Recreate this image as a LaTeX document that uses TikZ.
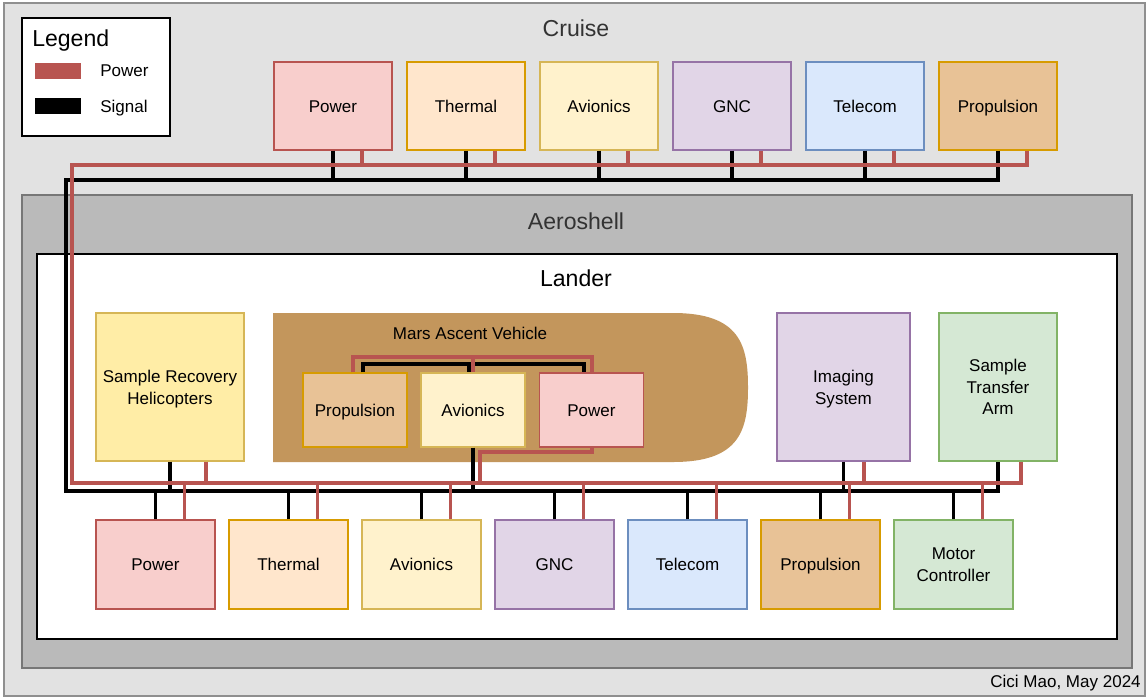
\documentclass[tikz,border=0pt]{standalone}
\usepackage{fontspec}
\setmainfont{Liberation Sans}
\usetikzlibrary{positioning,calc}
\definecolor{fillpow}{HTML}{F8CECC}
\definecolor{linepow}{HTML}{B85450}
\definecolor{fillthm}{HTML}{FFE6CC}
\definecolor{linethm}{HTML}{D79B00}
\definecolor{fillavi}{HTML}{FFF2CC}
\definecolor{lineavi}{HTML}{D6B656}
\definecolor{fillgnc}{HTML}{E1D5E7}
\definecolor{linegnc}{HTML}{9673A6}
\definecolor{filltel}{HTML}{DAE8FC}
\definecolor{linetel}{HTML}{6C8EBF}
\definecolor{fillprp}{HTML}{E8C296}
\definecolor{lineprp}{HTML}{D79B00}
\definecolor{fillmot}{HTML}{D5E8D4}
\definecolor{linemot}{HTML}{82B366}
\definecolor{fillsrh}{HTML}{FFEDA6}
\definecolor{linesrh}{HTML}{D6B656}
\definecolor{fillmav}{HTML}{C3965C}
\definecolor{cruisefill}{HTML}{E2E2E2}
\definecolor{cruiseline}{HTML}{8F8F8F}
\definecolor{aerofill}{HTML}{BABABA}
\definecolor{aeroline}{HTML}{777777}
\definecolor{wirered}{HTML}{B85450}
\definecolor{titlegray}{HTML}{333333}
\newcommand{\boxfont}{\fontsize{12.1}{15.4}\selectfont}
\newcommand{\titlefont}{\fontsize{16.4}{19}\selectfont}

\begin{document}
\begin{tikzpicture}[x=0.025cm, y=-0.025cm,
  unit/.style={draw, line width=0.9pt, align=center, font=\boxfont, inner sep=1pt},
  one/.style={text height=9pt, text depth=0.3pt},
  multi/.style={text depth=0pt},
  cbox/.style={unit, minimum width=2.95cm, minimum height=2.2cm},
  lbox/.style={unit, minimum width=2.975cm, minimum height=2.225cm},
  mbox/.style={unit, one, minimum width=2.6cm, minimum height=1.85cm},
  pwr/.style={draw=wirered, line width=2.2pt},
  sig/.style={draw=black, line width=2.2pt},
  title/.style={font=\titlefont, text=titlegray},
  plain/.style={font=\boxfont, inner sep=0pt}]
\useasboundingbox (0,0) rectangle (1148,698);

% FRAMES: cruise stage, aeroshell, lander
\draw[fill=cruisefill, draw=cruiseline, line width=1pt] (4,3) rectangle (1145,696);
\draw[fill=aerofill, draw=aeroline, line width=1pt] (22,195) rectangle (1132,668);
\draw[fill=white, draw=black, line width=0.9pt] (37,254) rectangle (1117,639);
\node[title] (tCruise) at (576,28) {Cruise};
\node[title] (tAero) at (576,221) {Aeroshell};
\node[font=\titlefont] (tLander) at (576,278) {Lander};
\node[plain, anchor=east] (credit) at (1141,683) {Cici Mao, May 2024};

% LEGEND
\node[draw=black, fill=white, line width=0.9pt, minimum width=3.7cm, minimum height=2.95cm] (legend) at (96,77) {};
\node[font=\titlefont, inner sep=0pt, anchor=west] (legTitle) at (32,41) {Legend};
\fill[wirered] (35,63) rectangle (81,79);
\fill[black] (35,98) rectangle (81,114);
\node[plain, one, anchor=west] (legPwr) at (100,70) {Power};
\node[plain, one, anchor=west] (legSig) at (100,106) {Signal};

% MARS ASCENT VEHICLE outline
\fill[fillmav] (273,313) -- (673,313) .. controls (740,313) and (748,345) .. (748,387.5)
  .. controls (748,430) and (740,462) .. (673,462) -- (273,462) -- cycle;
\node[plain] (mavLbl) at (470,333) {Mars Ascent Vehicle};

% CRUISE subsystems
\foreach \nm/\txt/\clr [count=\i from 0] in {cPow/Power/pow, cThm/Thermal/thm, cAvi/Avionics/avi,
    cGnc/GNC/gnc, cTel/Telecom/tel, cPrp/Propulsion/prp}{
  \node[cbox, one, fill=fill\clr, draw=line\clr] (\nm) at ({333+133*\i},106) {\txt};
}

% LANDER subsystems
\foreach \nm/\txt/\clr [count=\i from 0] in {lPow/Power/pow, lThm/Thermal/thm, lAvi/Avionics/avi,
    lGnc/GNC/gnc, lTel/Telecom/tel, lPrp/Propulsion/prp}{
  \node[lbox, one, fill=fill\clr, draw=line\clr] (\nm) at ({155.5+133*\i},564.5) {\txt};
}
\node[lbox, multi, fill=fillmot, draw=linemot] (lMot) at (953.5,564.5) {Motor\\Controller};
\node[unit, multi, fill=fillsrh, draw=linesrh, minimum width=3.7cm, minimum height=3.7cm] (srh) at (170,387) {Sample Recovery\\Helicopters};
\node[unit, multi, fill=fillgnc, draw=linegnc, minimum width=3.325cm, minimum height=3.7cm] (img) at (843.5,387) {Imaging\\System};
\node[unit, multi, fill=fillmot, draw=linemot, minimum width=2.95cm, minimum height=3.7cm] (sta) at (998,387) {Sample\\Transfer\\Arm};

% MAV subsystems
\node[mbox, fill=fillprp, draw=lineprp] (mPrp) at (355,410) {Propulsion};
\node[mbox, fill=fillavi, draw=lineavi] (mAvi) at (473,410) {Avionics};
\node[mbox, fill=fillpow, draw=linepow] (mPow) at (591.5,410) {Power};

% BUS coordinates
\coordinate (pwrTop) at (72,165);
\coordinate (sigTop) at (66,180);
\coordinate (pwrBus) at (72,483);
\coordinate (sigBus) at (66,491);
\coordinate (mavPwr) at (473,357);
\coordinate (mavSig) at (469,364);
\coordinate (mavOut) at (480,452);

% SIGNAL wiring
\draw[sig] (cPrp.south) |- (sigTop) -- (sigBus) -| (sta.south);
\foreach \nm in {cPow,cThm,cAvi,cGnc,cTel}{
  \draw[sig] (\nm.south) -- (\nm.south |- sigTop);
}
\foreach \nm in {lPow,lThm,lAvi,lGnc,lTel,lPrp,lMot}{
  \draw[sig] (\nm.north) -- (\nm.north |- sigBus);
}
\draw[sig] (srh.south) -- (srh.south |- sigBus);
\draw[sig] (img.south) -- (img.south |- sigBus);
\draw[sig] (mAvi.south) -- (mAvi.south |- sigBus);
\draw[sig] ($(mPrp.north)+(8,0)$) |- (mavSig) -| ($(mPow.north)+(-7.5,0)$);
\draw[sig] (mavSig) -- (mavSig |- mAvi.north);

% POWER wiring
\draw[pwr] ($(cPrp.south)+(29,0)$) |- (pwrTop) -- (pwrBus) -| ($(sta.south)+(23,0)$);
\foreach \nm in {cPow,cThm,cAvi,cGnc,cTel}{
  \draw[pwr] ($(\nm.south)+(29,0)$) -- ($(\nm.south |- pwrTop)+(29,0)$);
}
\foreach \nm in {lPow,lThm,lAvi,lGnc,lTel,lPrp,lMot}{
  \draw[pwr] ($(\nm.north)+(29,0)$) -- ($(\nm.north |- pwrBus)+(29,0)$);
}
\draw[pwr] ($(srh.south)+(36,0)$) -- ($(srh.south |- pwrBus)+(36,0)$);
\draw[pwr] ($(img.south)+(20.5,0)$) -- ($(img.south |- pwrBus)+(20.5,0)$);
\draw[pwr] ($(mPrp.north)+(-2,0)$) |- (mavPwr) -| ($(mPow.north)+(0.5,0)$);
\draw[pwr] (mavPwr) -- (mavPwr |- mAvi.north);
\draw[pwr] ($(mPow.south)+(0.5,0)$) |- (mavOut) -- (mavOut |- pwrBus);
\end{tikzpicture}
\end{document}
